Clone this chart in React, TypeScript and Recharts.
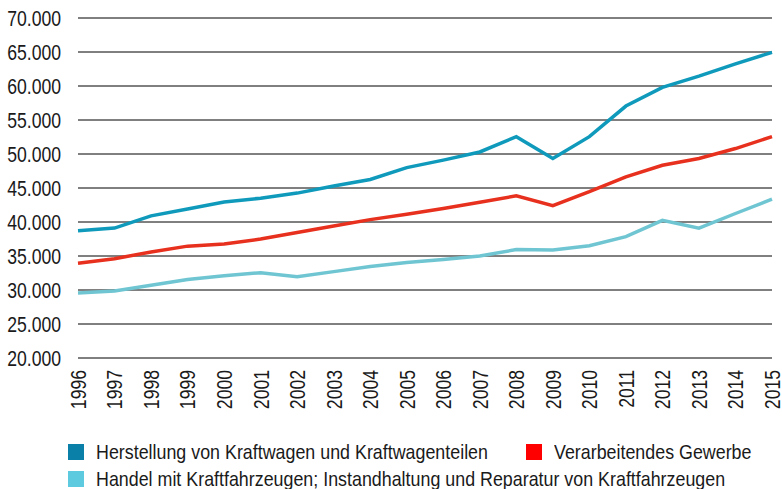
import React from "react";
import { LineChart, Line, XAxis, YAxis, CartesianGrid, Legend } from "recharts";

const years = ["1996","1997","1998","1999","2000","2001","2002","2003","2004","2005","2006","2007","2008","2009","2010","2011","2012","2013","2014","2015"];
const herstellung = [38700,39100,40900,41900,42950,43500,44250,45300,46250,48000,49100,50300,52550,49350,52550,57050,59800,61450,63250,64950];
const verarbeitend = [33950,34600,35600,36450,36750,37500,38450,39400,40350,41150,42000,42900,43850,42400,44450,46650,48350,49350,50800,52550];
const handel = [29550,29850,30700,31550,32100,32550,31950,32700,33450,34050,34500,35000,35950,35900,36500,37850,40250,39100,41250,43350];
const yTicks = [20000,25000,30000,35000,40000,45000,50000,55000,60000,65000,70000];

const names = {
  h: "Herstellung von Kraftwagen und Kraftwagenteilen",
  v: "Verarbeitendes Gewerbe",
  d: "Handel mit Kraftfahrzeugen; Instandhaltung und Reparatur von Kraftfahrzeugen",
};

const data = years.map((y, i) => ({ year: y, h: herstellung[i], v: verarbeitend[i], d: handel[i] }));

const FONT = "'Liberation Sans', Arial, sans-serif";
const SX = 0.8;
const TXT = "#1a1a1a";

const fmt = (v: number) => (v / 1000).toFixed(3);

const LegendContent = () => {
  const item = (color: string, label: string, left: number, top: number) => (
    <div style={{ position: "absolute", left, top, height: 16, whiteSpace: "nowrap" }}>
      <div style={{ position: "absolute", left: 0, top: 0, width: 16, height: 16, background: color }} />
      <span style={{ position: "absolute", left: 28, top: -1, fontFamily: FONT, fontSize: 21, lineHeight: "18px", color: TXT,
        display: "inline-block", transform: "scaleX(0.85)", transformOrigin: "left center" }}>{label}</span>
    </div>
  );
  return (
    <div style={{ position: "relative", width: 782, height: 45 }}>
      {item("#0a7fa8", names.h, 68, 0)}
      {item("#ff0000", names.v, 526, 0)}
      {item("#5ecadf", names.d, 68, 27)}
    </div>
  );
};

const XTick = (props: any) => {
  const { x, y, payload } = props;
  return (
    <g transform={`translate(${x},${y}) rotate(-90) scale(${SX},1)`}>
      <text x={0} y={0} textAnchor="end" dy="0.36em" fontFamily={FONT} fontSize={22} fill={TXT}>{payload.value}</text>
    </g>
  );
};

const YTick = (props: any) => {
  const { x, y, payload } = props;
  return (
    <g transform={`translate(${x},${y}) scale(${SX},1)`}>
      <text x={0} y={0} textAnchor="end" dy="0.36em" fontFamily={FONT} fontSize={22} fill={TXT}>{fmt(payload.value)}</text>
    </g>
  );
};

export default function App() {
  return (
    <div style={{ position: "absolute", left: 0, top: 0, width: 782, height: 489, background: "#fff" }}>
      <LineChart width={782} height={489} data={data} margin={{ top: 18, right: 10, bottom: 26, left: 0 }}>
        <CartesianGrid horizontal vertical={false} stroke="#000" strokeWidth={1} />
        <XAxis dataKey="year" axisLine={false} tickLine={false} tickSize={0} interval={0} tick={<XTick />} tickMargin={12} height={60} />
        <YAxis domain={[20000, 70000]} ticks={yTicks} axisLine={false} tickLine={false}
          tickSize={0} tickMargin={17} width={78} tick={<YTick />} interval={0} />
        <Line type="linear" dataKey="d" name={names.d} stroke="#6fc6d2" strokeWidth={3.5} dot={false} isAnimationActive={false} />
        <Line type="linear" dataKey="v" name={names.v} stroke="#e8301e" strokeWidth={3.5} dot={false} isAnimationActive={false} />
        <Line type="linear" dataKey="h" name={names.h} stroke="#0f9abc" strokeWidth={3.5} dot={false} isAnimationActive={false} />
        <Legend content={<LegendContent />} wrapperStyle={{ position: "absolute", left: 0, top: 444, width: 782 }} />
      </LineChart>
    </div>
  );
}
